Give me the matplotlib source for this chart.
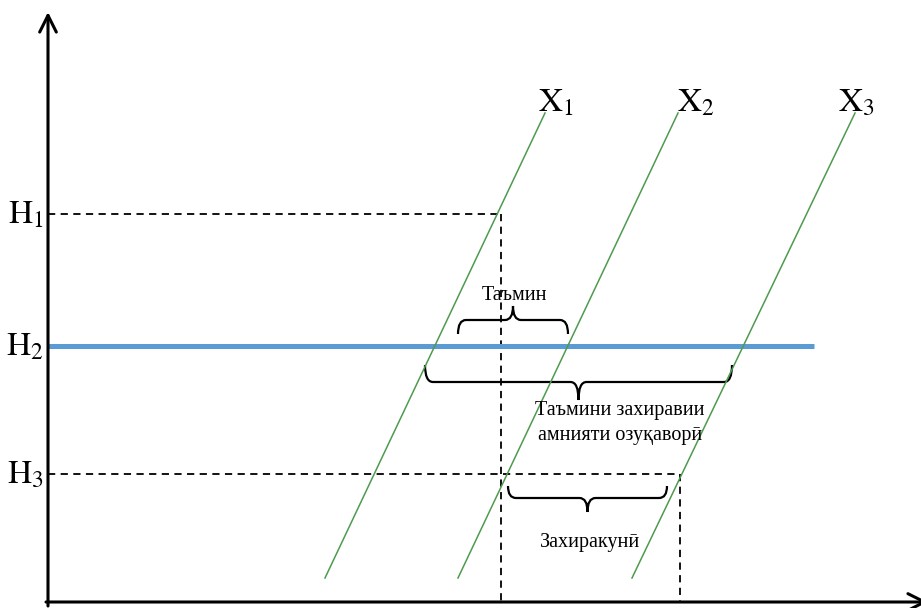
import matplotlib.pyplot as plt
from matplotlib.path import Path
from matplotlib.patches import PathPatch

plt.rcParams['mathtext.fontset'] = 'stix'
serif = ['Liberation Serif', 'DejaVu Serif']

# diagram coordinates (pixel-like, y grows downwards)
level_names = [r'$\mathrm{H}_1$', r'$\mathrm{H}_2$', r'$\mathrm{H}_3$']
level_y = [214, 346, 474]
level_x_end = [501, 814, 680]

line_names = [r'$\mathrm{X}_1$', r'$\mathrm{X}_2$', r'$\mathrm{X}_3$']
line_x_bottom = [325, 458, 632]
line_x_top = [545, 678, 855]
line_y_bottom = 578
line_y_top = 113
label_x = [538, 677, 838]

brace_x0 = [458, 425, 508]
brace_x1 = [568, 732, 667]
brace_yend = [334, 365, 486]
brace_ybar = [320, 382, 498]
brace_ytip = [306, 400, 512]
brace_text = ['Таъмин', 'Таъмини захиравии\nамнияти озуқаворӣ', 'Захиракунӣ']
brace_text_xy = [(514, 296), (620, 423), (590, 543)]

origin_x, origin_y = 48, 602

fig = plt.figure(figsize=(9.21, 6.08), dpi=100)
ax = fig.add_axes([0, 0, 1, 1])
ax.set_xlim(0, 921)
ax.set_ylim(608, 0)
ax.axis('off')

# axes with arrows
ax.annotate('', xy=(origin_x, 12), xytext=(origin_x, 606), annotation_clip=False,
            arrowprops=dict(arrowstyle='->', lw=2.2, color='black',
                            mutation_scale=30, shrinkA=0, shrinkB=0))
ax.annotate('', xy=(928, origin_y), xytext=(origin_x - 2, origin_y), annotation_clip=False,
            arrowprops=dict(arrowstyle='->', lw=2.2, color='black',
                            mutation_scale=30, shrinkA=0, shrinkB=0))

# levels
for i, (name, y, xe) in enumerate(zip(level_names, level_y, level_x_end)):
    if i == 1:
        ax.plot([origin_x, xe], [y, y], color='#5b9bd5', lw=3.6, solid_capstyle='butt')
    else:
        ax.plot([origin_x, xe], [y, y], color='black', lw=1.3, dashes=(4, 3))
        ax.plot([xe, xe], [y, origin_y], color='black', lw=1.3, dashes=(4, 3))
    ax.text(44, y, name, fontsize=24, ha='right', va='center')

# supply lines
for name, xb, xt, lx in zip(line_names, line_x_bottom, line_x_top, label_x):
    ax.plot([xb, xt], [line_y_bottom, line_y_top], color='#4e9a4e', lw=1.1)
    ax.text(lx, 112, name, fontsize=24, ha='left', va='baseline')


def brace(x0, x1, yend, ybar, ytip):
    xm = (x0 + x1) / 2
    r = 8
    verts = [(x0, yend), (x0, ybar), (x0 + r, ybar),
             (xm - r, ybar), (xm, ybar), (xm, ytip),
             (xm, ybar), (xm + r, ybar),
             (x1 - r, ybar), (x1, ybar), (x1, yend)]
    codes = [Path.MOVETO, Path.CURVE3, Path.CURVE3,
             Path.LINETO, Path.CURVE3, Path.CURVE3,
             Path.CURVE3, Path.CURVE3,
             Path.LINETO, Path.CURVE3, Path.CURVE3]
    ax.add_patch(PathPatch(Path(verts, codes), fill=False, lw=1.6, color='black'))


for x0, x1, ye, yb, yt, txt, (tx, ty) in zip(brace_x0, brace_x1, brace_yend, brace_ybar,
                                             brace_ytip, brace_text, brace_text_xy):
    brace(x0, x1, ye, yb, yt)
    ax.text(tx, ty, txt, fontsize=14.5, family=serif, ha='center', va='center',
            linespacing=1.4)

fig.savefig('out.png', dpi=100)
